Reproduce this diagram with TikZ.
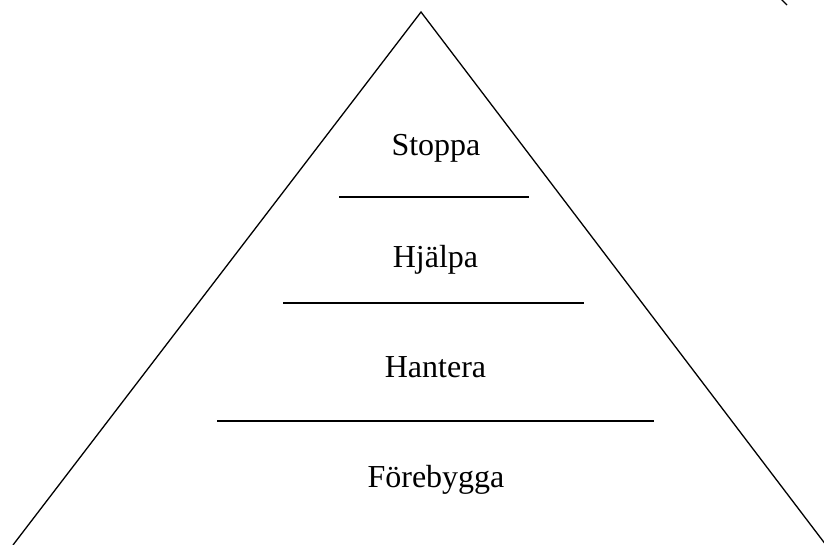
\documentclass[tikz,border=0pt]{standalone}
\usepackage{fontspec}
\setmainfont{Liberation Serif}
\begin{document}
\begin{tikzpicture}[x=1pt,y=-1pt,
  level/.style={font=\fontsize{32}{38}\selectfont, anchor=base, inner sep=0pt},
  divider/.style={line width=1.8pt},
  edge/.style={line width=1.3pt}]
\useasboundingbox (0,0) rectangle (824,545);
% pyramid outline
\coordinate (apex) at (421,12);
\coordinate (bl) at (13,545);
\coordinate (br) at (826,545);
\draw[edge] (bl) -- (apex) -- (br);
% tiers
\node[level] (stoppa) at (436,156) {Stoppa};
\node[level] (hjalpa) at (435.5,267) {Hjälpa};
\node[level] (hantera) at (435.5,377) {Hantera};
\node[level] (forebygga) at (436,487) {Förebygga};
% dividers
\coordinate (d1a) at (339,197); \coordinate (d1b) at (529,197);
\coordinate (d2a) at (283,303); \coordinate (d2b) at (584,303);
\coordinate (d3a) at (217,421); \coordinate (d3b) at (654,421);
\draw[divider] (d1a) -- (d1b);
\draw[divider] (d2a) -- (d2b);
\draw[divider] (d3a) -- (d3b);
% clipped stroke at the top edge
\coordinate (f1) at (781,-1); \coordinate (f2) at (787,5);
\draw[line width=1.2pt] (f1) -- (f2);
\end{tikzpicture}
\end{document}
